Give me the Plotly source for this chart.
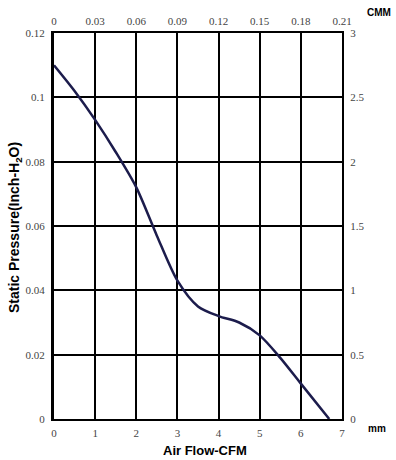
import plotly.graph_objects as go

cfm = [0, 0.5, 1, 1.5, 2, 2.5, 3, 3.5, 4, 4.5, 5, 5.5, 6, 6.69]
pressure = [0.110, 0.102, 0.093, 0.083, 0.072, 0.057, 0.043, 0.035, 0.032, 0.030, 0.026, 0.019, 0.011, 0.0]

x_ticks = [0, 1, 2, 3, 4, 5, 6, 7]
cmm_ticks = [0, 0.03, 0.06, 0.09, 0.12, 0.15, 0.18, 0.21]
y_ticks = [0, 0.02, 0.04, 0.06, 0.08, 0.1, 0.12]
y_tick_text = ["0", "0.02", "0.04", "0.06", "0.08", "0.1", "0.12"]
mm_ticks = [0, 0.5, 1, 1.5, 2, 2.5, 3]
mm_tick_text = ["0", "0.5", "1", "1.5", "2", "2.5", "3"]

tick_font = dict(family="Liberation Serif", size=11, color="#444")

W, H = 396, 460
L, T = 54, 33
R = W - 342
B = H - 419

fig = go.Figure()
fig.add_trace(go.Scatter(x=cfm, y=pressure, mode="lines",
                         line=dict(color="#1c1c4c", width=2.5, shape="spline", smoothing=0.8),
                         showlegend=False, hoverinfo="skip"))
fig.add_trace(go.Scatter(x=[cmm_ticks[0], cmm_ticks[-1]], y=[None, None], xaxis="x2", yaxis="y",
                         mode="markers", showlegend=False, hoverinfo="skip"))
fig.add_trace(go.Scatter(x=[None, None], y=[mm_ticks[0], mm_ticks[-1]], xaxis="x", yaxis="y2",
                         mode="markers", showlegend=False, hoverinfo="skip"))

pw = W - L - R
ph = H - T - B

def px2paper(px, py):
    return (px - L) / pw, 1 - (py - T) / ph

cmm_x, cmm_y = px2paper(379, 12)
mm_x, mm_y = px2paper(377, 428)
ytitle_x, ytitle_y = px2paper(15, 228)
xtitle_x, xtitle_y = px2paper(205, 450)

def ann(text, x, y, font, angle=0):
    return dict(text=text, x=x, y=y, xref="paper", yref="paper", showarrow=False,
                xanchor="center", yanchor="middle", textangle=angle, font=font)

fig.update_layout(
    width=W, height=H,
    margin=dict(l=L, r=R, t=T, b=B, autoexpand=False),
    paper_bgcolor="white", plot_bgcolor="white",
    xaxis=dict(range=[0, 7], tickvals=x_ticks, ticktext=[str(v) for v in x_ticks],
               showgrid=True, gridcolor="black", gridwidth=2, zeroline=False, automargin=False,
               showline=True, linecolor="black", linewidth=2, ticks="", tickfont=tick_font,
               ticklabelstandoff=3),
    xaxis2=dict(range=[0, 0.21], tickvals=cmm_ticks, ticktext=[("%g" % v) for v in cmm_ticks],
                overlaying="x", side="top", showgrid=False, zeroline=False, automargin=False,
                showline=True, linecolor="black", linewidth=2, ticks="", tickfont=tick_font,
                ticklabelstandoff=2),
    yaxis=dict(range=[0, 0.12], tickvals=y_ticks, ticktext=y_tick_text,
               showgrid=True, gridcolor="black", gridwidth=2, zeroline=False, automargin=False,
               showline=True, linecolor="black", linewidth=3, ticks="", tickfont=tick_font,
               ticklabelstandoff=4),
    yaxis2=dict(range=[0, 3], tickvals=mm_ticks, ticktext=mm_tick_text,
                overlaying="y", side="right", showgrid=False, zeroline=False, automargin=False,
                showline=True, linecolor="black", linewidth=2, ticks="", tickfont=tick_font,
                ticklabelstandoff=4),
    annotations=[
        ann("<b>CMM</b>", cmm_x, cmm_y, dict(family="Liberation Sans", size=10, color="black")),
        ann("<b>mm</b>", mm_x, mm_y, dict(family="Liberation Sans", size=10, color="black")),
        ann("<b>Static Pressure(Inch-H<sub>2</sub>O)</b>", ytitle_x, ytitle_y,
            dict(family="Liberation Sans", size=14, color="black"), -90),
        ann("<b>Air Flow-CFM</b>", xtitle_x, xtitle_y,
            dict(family="Liberation Sans", size=13, color="black")),
    ],
)
fig.write_html("out.html",
               config={"displayModeBar": False, "staticPlot": True},
               post_script="document.body.style.margin='0px';document.body.style.overflow='hidden';")
